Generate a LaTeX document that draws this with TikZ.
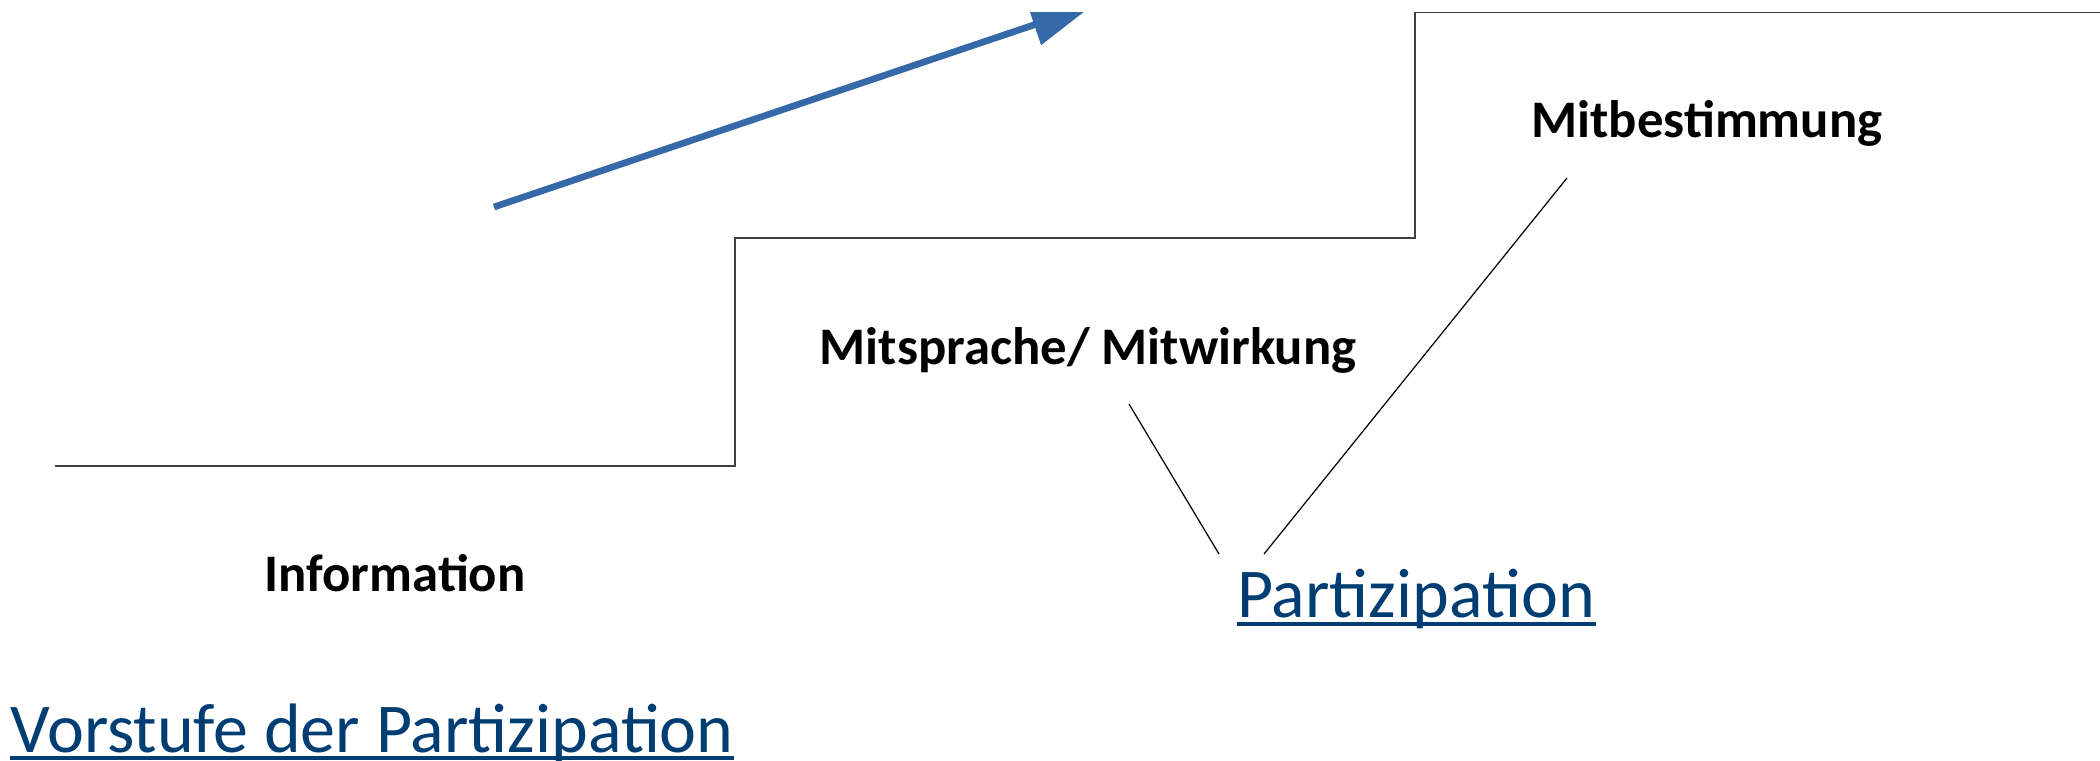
\documentclass[tikz,border=0pt]{standalone}
\usepackage{fontspec}
\setmainfont{Carlito}
\usetikzlibrary{arrows.meta}

\definecolor{arrowblue}{RGB}{54,105,168}
\definecolor{linkblue}{RGB}{0,61,115}

\begin{document}
\begin{tikzpicture}[x=0.01cm,y=-0.01cm,draw=black!100]
	\def \stepone{466}
	\def \steptwo{238}
	\def \stepthree{12.5}
	\tikzstyle{s-label}=[font=\fontsize{15}{18}\selectfont\bfseries,inner sep=0pt,anchor=base]
	\tikzstyle{p-label}=[font=\fontsize{19.9}{24}\selectfont,text=linkblue,inner sep=0pt,anchor=base]
	\tikzstyle{stair}=[draw=black!75,line width=0.4pt]
	\tikzstyle{pointer}=[draw=black,line width=0.35pt]
	\tikzstyle{uline}=[draw=linkblue,line width=1.2pt]
	\useasboundingbox (0,0) rectangle (2100,761);

	% stairs
	\coordinate (s0) at (55,\stepone);
	\coordinate (s1) at (735,\stepone);
	\coordinate (s2) at (735,\steptwo);
	\coordinate (s3) at (1415,\steptwo);
	\coordinate (s4) at (1415,\stepthree);
	\coordinate (s5) at (2100,\stepthree);
	\draw[stair] (s0) -- (s1) -- (s2) -- (s3) -- (s4) -- (s5);

	% step labels
	\node[s-label] 	(info)	at (395,591)	{Information};
	\node[s-label] 	(mitsp)	at (1088,365)	{Mitsprache/ Mitwirkung};
	\node[s-label] 	(mitbe)	at (1707,138)	{Mitbestimmung};

	% part labels
	\node[p-label] 	(part)	at (1416,617)	{Partizipation};
	\node[p-label] 	(vorst)	at (372,752)	{Vorstufe der Partizipation};
	\draw[uline] ([yshift=-2.1pt]part.base west) -- ([yshift=-2.1pt]part.base east);
	\draw[uline] ([yshift=-1.6pt]vorst.base west) -- ([yshift=-1.6pt]vorst.base east);

	% pointers
	\coordinate (p1a) at (1129,404);
	\coordinate (p1b) at (1219,554);
	\coordinate (p2a) at (1567,178);
	\coordinate (p2b) at (1264,554);
	\draw[pointer] (p1a) -- (p1b);
	\draw[pointer] (p2a) -- (p2b);

	% arrow
	\coordinate (a0) at (494,207);
	\coordinate (a1) at (1093,5);
	\begin{scope}
		\clip (0,\stepthree) rectangle (2100,761);
		\draw[draw=arrowblue,line width=1.9pt,-{Triangle[length=0.62cm,width=0.41cm,fill=arrowblue]}] (a0) -- (a1);
	\end{scope}

\end{tikzpicture}
\end{document}
